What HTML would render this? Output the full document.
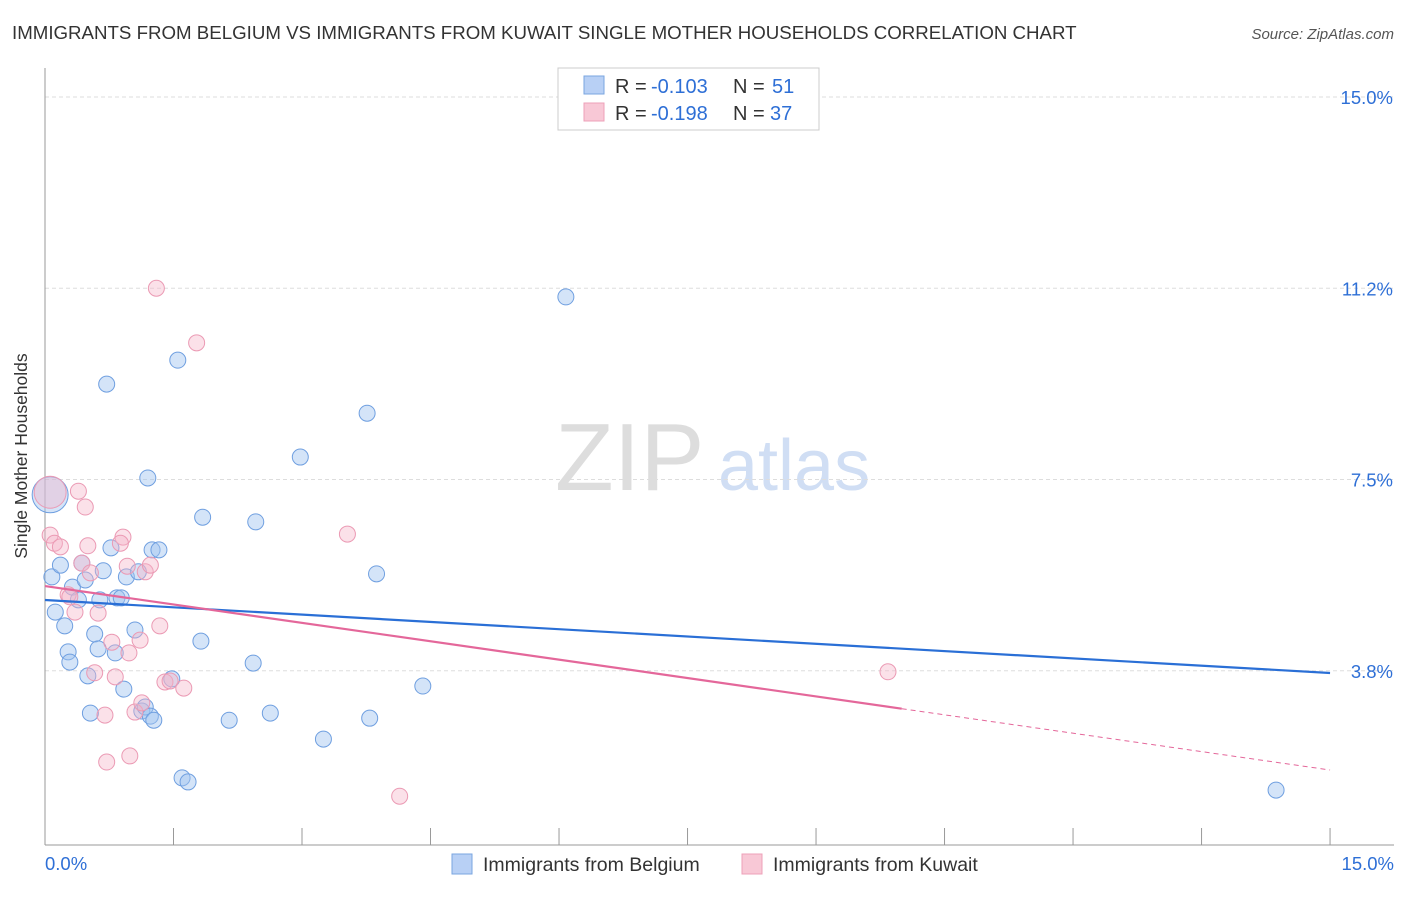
<!DOCTYPE html>
<html><head><meta charset="utf-8"><style>
body{margin:0;background:#fff;font-family:"Liberation Sans",sans-serif;}
svg text{font-family:"Liberation Sans",sans-serif;}
</style></head><body>
<svg id="c" width="1406" height="892">
<text x="12" y="39" font-size="18.7" fill="#333">IMMIGRANTS FROM BELGIUM VS IMMIGRANTS FROM KUWAIT SINGLE MOTHER HOUSEHOLDS CORRELATION CHART</text>
<text x="1394" y="39" font-size="15" fill="#555" font-style="italic" text-anchor="end">Source: ZipAtlas.com</text>
<text x="27" y="456" font-size="17.5" fill="#333" text-anchor="middle" transform="rotate(-90 27 456)">Single Mother Households</text>
<text x="555" y="490" font-size="96" fill="#ddd" font-family="Liberation Serif">ZIP</text>
<text x="718" y="490" font-size="72" fill="#d0def4">atlas</text>
<g id="grid"></g><g id="pts"></g><g id="lines"></g>
<g>
<rect x="558" y="68" width="261" height="62" fill="#fff" stroke="#ccc"/>
<rect x="584" y="76" width="20" height="18" fill="#b8d0f5" stroke="#7aa6e0"/>
<rect x="584" y="103" width="20" height="18" fill="#f8c8d6" stroke="#eea0b8"/>
<text x="615" y="93" font-size="20" fill="#333">R =</text>
<text x="651" y="93" font-size="20" fill="#2e6fd6">-0.103</text>
<text x="733" y="93" font-size="20" fill="#333">N =</text>
<text x="772" y="93" font-size="20" fill="#2e6fd6">51</text>
<text x="615" y="120" font-size="20" fill="#333">R =</text>
<text x="651" y="120" font-size="20" fill="#2e6fd6">-0.198</text>
<text x="733" y="120" font-size="20" fill="#333">N =</text>
<text x="770" y="120" font-size="20" fill="#2e6fd6">37</text>
</g>
<g>
<rect x="452" y="854" width="20" height="20" fill="#b8d0f5" stroke="#7aa6e0"/>
<text x="483" y="871" font-size="19.5" fill="#333">Immigrants from Belgium</text>
<rect x="742" y="854" width="20" height="20" fill="#f8c8d6" stroke="#eea0b8"/>
<text x="773" y="871" font-size="19.5" fill="#333">Immigrants from Kuwait</text>
</g>
</svg>
<script>
const yTicks=[15.0,11.2,7.5,3.8];
const yTickVals=[15,11.25,7.5,3.75];
const blueX=[.06,.08,.12,.18,.23,.27,.29,.32,.39,.43,.47,.50,.53,.58,.62,.64,.68,.72,.77,.82,.84,.89,.92,.95,1.05,1.09,1.13,1.17,1.20,1.23,1.25,1.27,1.33,1.48,1.55,1.60,1.67,1.82,1.84,2.15,2.43,2.46,2.63,2.98,3.25,3.76,3.79,3.87,4.41,6.08,14.37];
const blueY=[7.20,5.59,4.90,5.82,4.63,4.12,3.92,5.39,5.14,5.86,5.53,3.65,2.92,4.47,4.18,5.14,5.71,9.37,6.16,4.10,5.18,5.18,3.39,5.59,4.55,5.69,2.96,3.04,7.53,2.86,6.12,2.78,6.12,3.59,9.84,1.65,1.57,4.33,6.76,2.78,3.90,6.67,2.92,7.94,2.41,8.80,2.82,5.65,3.45,11.08,1.41];
const pinkX=[.06,.06,.11,.18,.27,.35,.39,.43,.47,.50,.53,.58,.62,.70,.72,.78,.82,.91,.96,.98,.99,1.05,1.13,1.17,1.23,1.30,1.34,1.40,1.46,1.62,1.77,3.53,4.14,9.84,.29,.88,1.11];
const pinkY=[7.25,6.41,6.25,6.18,5.24,4.90,7.27,5.86,6.96,6.20,5.67,3.71,4.88,2.88,1.96,4.31,3.63,6.37,5.80,4.10,2.08,2.94,3.12,5.69,5.82,11.25,4.63,3.53,3.55,3.41,10.18,6.43,1.29,3.73,5.20,6.25,4.35];
const blueTrend=[5.137,3.706];
const pinkTrend=[5.41,1.804];
const pinkSolidEnd=10.0;
const X=v=>45+v*85.67, Y=v=>97+(15-v)*51;
const NS='http://www.w3.org/2000/svg';
function mk(p,t,a){const e=document.createElementNS(NS,t);for(const k in a)e.setAttribute(k,a[k]);p.appendChild(e);return e;}
const g=document.getElementById('grid');
yTickVals.forEach((v,i)=>{
 const l=mk(g,'line',{x1:45,x2:1394,y1:Y(v),y2:Y(v),stroke:'#ddd','stroke-dasharray':'4 3'});
 
 
 const t=mk(g,'text',{x:1393,y:Y(v)+7,'font-size':18.5,fill:'#2e6fd6','text-anchor':'end'});
 t.textContent=yTicks[i].toFixed(1)+'%';
 
 
});
mk(g,'line',{x1:45,x2:45,y1:68,y2:845,stroke:'#999'});
mk(g,'line',{x1:45,x2:1394,y1:845,y2:845,stroke:'#999'});
for(let i=0;i<=10;i++){const t=mk(g,'line',{x1:X(i*1.5),x2:X(i*1.5),y1:828,y2:845,stroke:'#999'});
 
 }
let t1=mk(g,'text',{x:45,y:870,'font-size':18.5,fill:'#2e6fd6'});t1.textContent='0.0%';


let t2=mk(g,'text',{x:1394,y:870,'font-size':18.5,fill:'#2e6fd6','text-anchor':'end'});t2.textContent='15.0%';


const p=document.getElementById('pts');
blueX.forEach((x,i)=>{const c=mk(p,'circle',{cx:X(x),cy:Y(blueY[i]),r:i==0?18:8,fill:'rgba(160,195,240,0.45)',stroke:'#6f9fe0','stroke-width':1});
 
 });
pinkX.forEach((x,i)=>{const c=mk(p,'circle',{cx:X(x),cy:Y(pinkY[i]),r:i==0?16:8,fill:'rgba(245,180,200,0.4)',stroke:'#eb9ab4','stroke-width':1});
 
 });
const L=document.getElementById('lines');
const pY=x=>pinkTrend[0]+(pinkTrend[1]-pinkTrend[0])*x/15;
let b=mk(L,'line',{x1:X(0),y1:Y(blueTrend[0]),x2:X(15),y2:Y(blueTrend[1]),stroke:'#2a6fd6','stroke-width':2.2});


let k=mk(L,'line',{x1:X(0),y1:Y(pY(0)),x2:X(pinkSolidEnd),y2:Y(pY(pinkSolidEnd)),stroke:'#e4679a','stroke-width':2.2});


let kd=mk(L,'line',{x1:X(pinkSolidEnd),y1:Y(pY(pinkSolidEnd)),x2:X(15),y2:Y(pY(15)),stroke:'#e4679a','stroke-width':1,'stroke-dasharray':'5 4'});


</script>
</body></html>
